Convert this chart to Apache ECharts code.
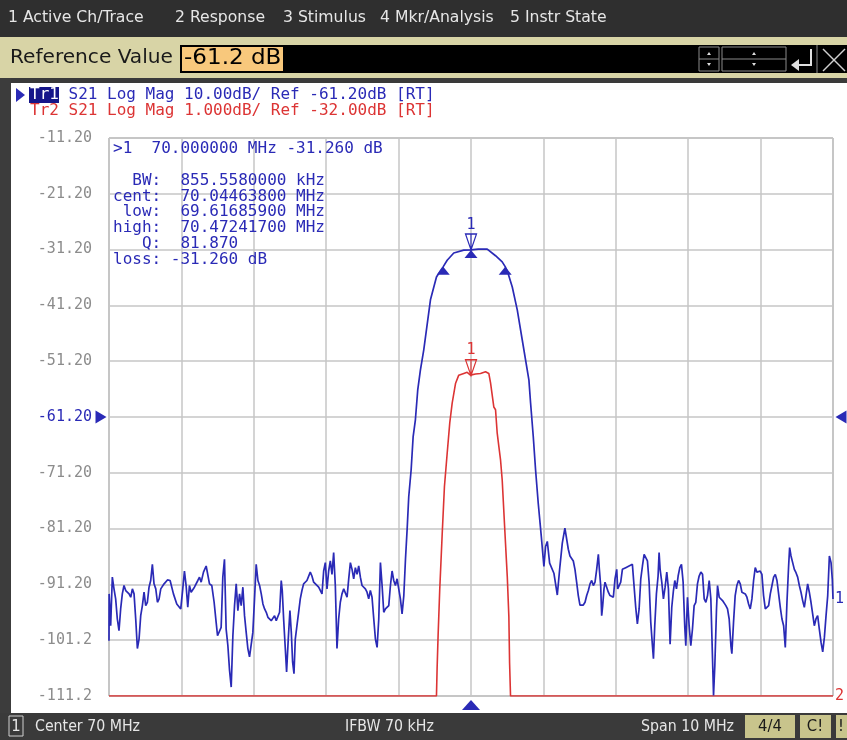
<!DOCTYPE html>
<html>
<head>
<meta charset="utf-8">
<title>S21 Log Mag</title>
<script src="https://cdn.jsdelivr.net/npm/echarts@6/dist/echarts.min.js"></script>
<style>
  html, body { margin: 0; padding: 0; background: #fff; }
  #chart { width: 847px; height: 740px; }
</style>
</head>
<body>
<div id="chart"></div>
<script>
// Tr1: S21 Log Mag, 10 dB/div (frequency in MHz, magnitude in dB)
const tr1Freq = [
  65.000, 65.002, 65.023, 65.046, 65.069, 65.092, 65.115, 65.138, 65.161, 65.184, 65.207, 65.231, 65.254, 65.277,
  65.300, 65.323, 65.346, 65.369, 65.392, 65.415, 65.438, 65.461, 65.484, 65.507, 65.530, 65.553, 65.576, 65.599,
  65.622, 65.646, 65.669, 65.692, 65.715, 65.761, 65.807, 65.844, 65.890, 65.936, 65.991, 66.019, 66.042, 66.065,
  66.088, 66.111, 66.134, 66.180, 66.227, 66.250, 66.273, 66.305, 66.342, 66.360, 66.388, 66.420, 66.452, 66.480,
  66.499, 66.526, 66.549, 66.572, 66.595, 66.618, 66.642, 66.665, 66.688, 66.711, 66.734, 66.757, 66.780, 66.803,
  66.826, 66.849, 66.872, 66.895, 66.918, 66.941, 66.964, 66.987, 67.010, 67.033, 67.057, 67.080, 67.103, 67.126,
  67.149, 67.172, 67.195, 67.218, 67.241, 67.264, 67.287, 67.310, 67.333, 67.356, 67.379, 67.393, 67.412, 67.435,
  67.453, 67.476, 67.499, 67.518, 67.536, 67.555, 67.573, 67.596, 67.619, 67.642, 67.665, 67.688, 67.711, 67.734,
  67.757, 67.780, 67.803, 67.827, 67.850, 67.896, 67.942, 67.965, 67.988, 68.011, 68.034, 68.057, 68.080, 68.103,
  68.126, 68.149, 68.172, 68.195, 68.218, 68.242, 68.265, 68.288, 68.311, 68.334, 68.357, 68.380, 68.403, 68.426,
  68.449, 68.472, 68.495, 68.518, 68.541, 68.564, 68.587, 68.610, 68.633, 68.657, 68.680, 68.703, 68.726, 68.749,
  68.772, 68.795, 68.818, 68.864, 68.887, 68.910, 68.933, 68.956, 68.979, 69.002, 69.025, 69.048, 69.072, 69.095,
  69.118, 69.140, 69.173, 69.201, 69.232, 69.264, 69.301, 69.347, 69.440, 69.523, 69.578, 69.617, 69.671, 69.762,
  69.900, 70.000, 70.100, 70.224, 70.242, 70.339, 70.431, 70.472, 70.501, 70.570, 70.639, 70.708, 70.800, 70.823,
  70.860, 70.892, 70.929, 70.971, 71.007, 71.030, 71.054, 71.086, 71.113, 71.145, 71.192, 71.228, 71.261, 71.297,
  71.344, 71.367, 71.390, 71.413, 71.436, 71.459, 71.482, 71.505, 71.528, 71.551, 71.575, 71.598, 71.621, 71.644,
  71.667, 71.690, 71.713, 71.736, 71.759, 71.773, 71.791, 71.805, 71.819, 71.837, 71.851, 71.874, 71.897, 71.920,
  71.943, 71.966, 71.989, 72.013, 72.026, 72.049, 72.068, 72.091, 72.137, 72.183, 72.229, 72.252, 72.275, 72.298,
  72.322, 72.345, 72.368, 72.391, 72.414, 72.437, 72.460, 72.483, 72.506, 72.520, 72.538, 72.561, 72.584, 72.598,
  72.612, 72.635, 72.658, 72.681, 72.704, 72.727, 72.750, 72.773, 72.796, 72.815, 72.838, 72.861, 72.884, 72.907,
  72.930, 72.953, 72.967, 72.990, 73.013, 73.036, 73.059, 73.082, 73.105, 73.128, 73.151, 73.175, 73.198, 73.221,
  73.244, 73.267, 73.290, 73.313, 73.336, 73.350, 73.368, 73.391, 73.405, 73.428, 73.451, 73.474, 73.497, 73.520,
  73.543, 73.566, 73.590, 73.603, 73.626, 73.649, 73.672, 73.696, 73.719, 73.742, 73.765, 73.788, 73.811, 73.834,
  73.857, 73.880, 73.903, 73.926, 73.949, 73.972, 73.995, 74.018, 74.041, 74.065, 74.088, 74.111, 74.134, 74.157,
  74.180, 74.203, 74.226, 74.249, 74.272, 74.295, 74.318, 74.341, 74.364, 74.387, 74.401, 74.420, 74.443, 74.466,
  74.489, 74.512, 74.535, 74.558, 74.581, 74.604, 74.627, 74.650, 74.673, 74.696, 74.719, 74.742, 74.765, 74.788,
  74.811, 74.835, 74.858, 74.881, 74.904, 74.927, 74.950, 74.973, 74.990, 75.000
];
const tr1Mag = [
  -101.3, -92.9, -98.6, -89.9, -92.0, -93.8, -97.4, -99.5, -95.6, -92.9, -91.4, -92.3, -92.0, -92.9,
  -93.5, -92.0, -92.9, -97.4, -102.7, -101.0, -96.8, -95.0, -92.6, -95.0, -94.4, -91.7, -90.5, -87.6,
  -91.1, -92.0, -94.4, -93.8, -92.0, -91.1, -90.4, -90.5, -92.9, -94.7, -95.6, -92.0, -88.8, -91.4,
  -95.3, -91.4, -92.6, -91.7, -90.5, -89.9, -90.8, -89.0, -87.9, -87.6, -91.1, -91.4, -94.4, -98.0,
  -100.4, -100.1, -98.9, -89.9, -86.7, -99.2, -102.2, -106.6, -109.6, -100.4, -95.0, -91.1, -95.9, -92.9,
  -95.0, -91.7, -96.8, -99.8, -102.7, -104.2, -103.9, -99.8, -93.8, -87.6, -90.5, -91.4, -92.9, -94.7,
  -95.6, -96.2, -97.1, -97.4, -97.7, -97.4, -96.8, -97.7, -98.0, -96.2, -90.5, -92.3, -97.4, -102.7,
  -106.9, -101.0, -95.9, -99.8, -105.1, -107.2, -101.0, -98.6, -96.2, -93.8, -92.3, -91.1, -90.8, -90.5,
  -90.2, -89.0, -89.7, -90.8, -91.1, -91.7, -92.9, -88.8, -87.3, -92.0, -88.8, -87.0, -89.4, -85.5,
  -91.4, -102.7, -97.4, -94.4, -92.9, -92.0, -92.3, -93.5, -90.2, -87.3, -88.5, -90.2, -88.2, -89.4,
  -87.9, -89.9, -91.4, -91.7, -92.0, -92.6, -93.8, -92.3, -93.5, -97.4, -101.0, -102.5, -97.4, -87.3,
  -91.4, -96.2, -95.6, -95.0, -91.4, -88.8, -90.5, -91.4, -90.2, -92.0, -93.8, -96.5, -93.2, -86.7,
  -81.3, -75.5, -70.7, -64.7, -61.7, -56.4, -52.8, -49.2, -40.2, -36.1, -35.0, -34.26, -33.1, -31.8,
  -31.3, -31.26, -31.1, -31.1, -31.3, -32.3, -33.4, -34.26, -35.0, -37.9, -42.0, -47.4, -54.6, -58.7,
  -64.7, -70.7, -76.7, -82.6, -88.0, -84.4, -83.5, -87.4, -87.7, -89.2, -93.1, -88.0, -83.8, -81.1,
  -84.9, -86.1, -86.4, -87.0, -88.5, -90.8, -93.2, -94.9, -94.9, -94.9, -94.4, -93.2, -92.3, -91.1,
  -90.5, -91.4, -90.8, -88.5, -85.8, -88.5, -91.4, -96.8, -95.0, -92.0, -90.8, -91.7, -92.6, -93.2,
  -93.2, -93.5, -90.2, -88.5, -92.0, -91.7, -90.8, -88.5, -88.2, -87.9, -87.6, -87.9, -95.3, -98.3,
  -95.6, -90.2, -87.9, -85.8, -86.1, -87.0, -90.8, -98.0, -102.2, -104.5, -98.6, -92.9, -89.7, -85.5,
  -88.5, -90.8, -93.8, -91.7, -89.0, -92.0, -101.9, -95.3, -92.3, -90.5, -92.0, -89.7, -88.2, -87.6,
  -90.8, -98.9, -102.2, -93.5, -98.6, -102.2, -99.2, -95.0, -94.4, -91.1, -89.7, -89.0, -89.4, -93.8,
  -94.4, -93.2, -90.5, -93.8, -104.5, -111.1, -105.7, -95.6, -91.4, -93.5, -93.8, -94.1, -94.4, -95.0,
  -95.6, -97.4, -102.2, -103.6, -98.0, -93.2, -91.4, -90.5, -91.1, -92.6, -92.3, -92.9, -93.5, -94.7,
  -95.6, -93.8, -90.5, -88.2, -89.0, -88.8, -88.8, -89.4, -93.2, -95.6, -95.9, -95.0, -92.9, -91.4,
  -89.9, -89.4, -90.5, -92.9, -95.3, -97.4, -98.6, -102.5, -94.4, -87.9, -84.6, -86.1, -87.3, -88.5,
  -89.1, -89.9, -91.4, -92.6, -94.1, -95.3, -93.2, -91.1, -92.6, -94.4, -96.5, -98.6, -97.4, -96.8,
  -99.2, -101.6, -103.3, -100.7, -96.8, -93.2, -86.1, -87.3, -90.2, -93.8
];

// Tr2: same S21, 1 dB/div (values below the display floor sit on -37 dB)
const tr2Freq = [
  65.000, 69.523, 69.532, 69.546, 69.568, 69.602, 69.633, 69.671, 69.707, 69.740, 69.786, 69.831, 69.900, 69.947,
  69.993, 70.062, 70.131, 70.201, 70.246, 70.270, 70.315, 70.339, 70.362, 70.385, 70.408, 70.431, 70.467, 70.501,
  70.523, 70.533, 70.546, 75.000
];
const tr2Mag = [
  -37.0, -37.0, -36.5, -35.9, -35.1, -34.1, -33.25, -32.65, -32.1, -31.75, -31.4, -31.25, -31.22, -31.2,
  -31.25, -31.23, -31.22, -31.19, -31.22, -31.39, -31.82, -31.87, -32.29, -32.53, -32.77, -33.13, -34.03, -34.86,
  -35.58, -36.41, -37.0, -37.0
];

// marker 1 and bandwidth search points
const marker1 = [70.0, -31.26];
const bwLow = [69.61686, -34.26];
const bwHigh = [70.47242, -34.26];

const yTickLabels = ['-111.2', '-101.2', '-91.20', '-81.20', '-71.20', '-61.20', '-51.20', '-41.20', '-31.20', '-21.20', '-11.20'];
const menuItems = ['1 Active Ch/Trace', '2 Response', '3 Stimulus', '4 Mkr/Analysis', '5 Instr State'];
const statusItems = ['Center 70 MHz', 'IFBW 70 kHz', 'Span 10 MHz'];
const markerLines = [
  '>1  70.000000 MHz -31.260 dB',
  '',
  '  BW:  855.5580000 kHz',
  'cent:  70.04463800 MHz',
  ' low:  69.61685900 MHz',
  'high:  70.47241700 MHz',
  '   Q:  81.870',
  'loss: -31.260 dB'
];

const BLUE = '#2a2ab6';
const RED = '#dc3434';
const GRID = '#c6c6c6';
const MONO = '"DejaVu Sans Mono", monospace';
const UI = '"Liberation Sans Narrow", "DejaVu Sans Condensed", sans-serif';
const CW = 9.63; // width of one mono char at 16px

const chart = echarts.init(document.getElementById('chart'));

// marker symbol: open triangle with a stem
const markerPath = 'path://M0,0 L12,0 L6,14 Z M6,0 L6,14';

function mkMarker(coord, color) {
  return {
    coord: coord,
    symbol: markerPath,
    symbolSize: [11, 16],
    symbolOffset: [0, '-50%'],
    itemStyle: { color: 'rgba(0,0,0,0)', borderColor: color, borderWidth: 1.3 },
    label: { show: true, position: 'top', distance: 1, formatter: '1', color: color, fontFamily: MONO, fontSize: 15 }
  };
}
function upTri(coord, size, offY) {
  return {
    coord: coord, symbol: 'triangle', symbolSize: size, symbolOffset: [0, offY],
    itemStyle: { color: BLUE }, label: { show: false }
  };
}
// UI text, stretched horizontally to the panel's wide lettering
function uiText(x, y, text, size, color, sx, align) {
  return {
    type: 'text', x: x, y: y, scaleX: sx,
    style: { text: text, fill: color, font: size + 'px ' + UI, align: align || 'left', verticalAlign: 'middle' }
  };
}

const gfx = [];
// menu bar
gfx.push({ type: 'rect', shape: { x: 0, y: 0, width: 847, height: 37 }, style: { fill: '#2f2f2f' } });
const menuX = [8, 175, 283, 380, 510];
menuItems.forEach((t, i) => gfx.push(uiText(menuX[i], 18, t, 15, '#e6e6e6', 1.16)));
// reference value row
gfx.push({ type: 'rect', shape: { x: 0, y: 37, width: 847, height: 41 }, style: { fill: '#d8d4a6' } });
gfx.push(uiText(10, 58, 'Reference Value', 20, '#1a1a1a', 1.12));
gfx.push({ type: 'rect', shape: { x: 180, y: 45, width: 667, height: 28 }, style: { fill: '#000' } });
gfx.push({ type: 'rect', shape: { x: 182, y: 47, width: 101, height: 24 }, style: { fill: '#f8c87c' } });
gfx.push(uiText(184, 59, '-61.2 dB', 21, '#000', 1.22));
// spinners, enter, cancel
[[699, 20], [722, 64]].forEach(b => {
  gfx.push({ type: 'rect', shape: { x: b[0], y: 47, width: b[1], height: 24 }, style: { fill: 'none', stroke: '#8a8a8a', lineWidth: 1 } });
  gfx.push({ type: 'line', shape: { x1: b[0], y1: 59, x2: b[0] + b[1], y2: 59 }, style: { stroke: '#8a8a8a', lineWidth: 1 } });
  const cx = b[0] + b[1] / 2;
  gfx.push({ type: 'polygon', shape: { points: [[cx - 2, 55], [cx + 2, 55], [cx, 52]] }, style: { fill: '#ddd' } });
  gfx.push({ type: 'polygon', shape: { points: [[cx - 2, 63], [cx + 2, 63], [cx, 66]] }, style: { fill: '#ddd' } });
});
gfx.push({ type: 'polyline', shape: { points: [[811, 49], [811, 65], [795, 65]] }, style: { stroke: '#e0e0e0', lineWidth: 2, fill: 'none' } });
gfx.push({ type: 'polygon', shape: { points: [[791, 65], [799, 59], [799, 71]] }, style: { fill: '#e0e0e0' } });
gfx.push({ type: 'line', shape: { x1: 817, y1: 45, x2: 817, y2: 73 }, style: { stroke: '#8a8a8a', lineWidth: 1 } });
gfx.push({ type: 'line', shape: { x1: 823, y1: 49, x2: 845, y2: 71 }, style: { stroke: '#d0d0d0', lineWidth: 1.5 } });
gfx.push({ type: 'line', shape: { x1: 845, y1: 49, x2: 823, y2: 71 }, style: { stroke: '#d0d0d0', lineWidth: 1.5 } });
// frame
gfx.push({ type: 'rect', shape: { x: 0, y: 78, width: 847, height: 5 }, style: { fill: '#3a3a3a' } });
gfx.push({ type: 'rect', shape: { x: 0, y: 78, width: 11, height: 636 }, style: { fill: '#3c3c3c' } });
// trace header
gfx.push({ type: 'polygon', shape: { points: [[16, 88], [25, 95], [16, 102]] }, style: { fill: BLUE } });
gfx.push({ type: 'rect', shape: { x: 29, y: 87, width: 30, height: 16 }, style: { fill: '#16168a' } });
gfx.push({ type: 'text', x: 30, y: 95, style: { text: 'Tr1', fill: '#fff', font: '16px ' + MONO, verticalAlign: 'middle' } });
gfx.push({ type: 'text', x: 30 + 3 * CW, y: 95, style: { text: ' S21 Log Mag 10.00dB/ Ref -61.20dB [RT]', fill: BLUE, font: '16px ' + MONO, verticalAlign: 'middle' } });
gfx.push({ type: 'text', x: 30, y: 111, style: { text: 'Tr2 S21 Log Mag 1.000dB/ Ref -32.00dB [RT]', fill: RED, font: '16px ' + MONO, verticalAlign: 'middle' } });
// marker readout
markerLines.forEach((t, i) => {
  gfx.push({ type: 'text', x: 113, y: 149 + i * 15.8, z: 10, style: { text: t, fill: BLUE, font: '16px ' + MONO, verticalAlign: 'middle' } });
});
// status bar
gfx.push({ type: 'rect', shape: { x: 0, y: 713, width: 847, height: 27 }, style: { fill: '#3a3a3a' } });
gfx.push({ type: 'rect', shape: { x: 9, y: 716, width: 14, height: 20 }, style: { fill: 'none', stroke: '#cfcfcf', lineWidth: 1 } });
gfx.push(uiText(16, 727, '1', 15, '#e6e6e6', 1.1, 'center'));
const statusX = [35, 345, 641];
statusItems.forEach((t, i) => gfx.push(uiText(statusX[i], 727, t, 15, '#e6e6e6', 1.05)));
gfx.push({ type: 'rect', shape: { x: 745, y: 715, width: 50, height: 23 }, style: { fill: '#c8c48c' } });
gfx.push(uiText(770, 727, '4/4', 15, '#1a1a1a', 1.1, 'center'));
gfx.push({ type: 'rect', shape: { x: 800, y: 715, width: 31, height: 23 }, style: { fill: '#c8c48c' } });
gfx.push(uiText(815, 727, 'C!', 15, '#1a1a1a', 1.1, 'center'));
gfx.push({ type: 'rect', shape: { x: 836, y: 715, width: 11, height: 23 }, style: { fill: '#c8c48c' } });
gfx.push(uiText(841, 727, '!', 15, '#1a1a1a', 1.1, 'center'));

const option = {
  animation: false,
  backgroundColor: '#ffffff',
  grid: {
    left: 109, right: 14, top: 138, bottom: 44,
    show: true, borderColor: '#8c8c8c', borderWidth: 1, backgroundColor: '#fff'
  },
  xAxis: {
    type: 'value', min: 65, max: 75, interval: 1,
    axisLabel: { show: false }, axisTick: { show: false }, axisLine: { show: false },
    splitLine: { lineStyle: { color: GRID, width: 1.5 } }
  },
  yAxis: [
    {
      type: 'value', min: -111.2, max: -11.2, interval: 10,
      axisTick: { show: false }, axisLine: { show: false },
      splitLine: { lineStyle: { color: GRID, width: 1.5 } },
      axisLabel: {
        margin: 17, fontFamily: MONO, fontSize: 15, color: '#8c8c8c',
        formatter: function (v) {
          const s = yTickLabels.find(l => Math.abs(parseFloat(l) - v) < 0.01) || '';
          return s === '-61.20' ? '{ref|' + s + '}' : s;
        },
        rich: { ref: { color: BLUE, fontFamily: MONO, fontSize: 15 } }
      }
    },
    { type: 'value', min: -37, max: -27, show: false }
  ],
  series: [
    {
      name: 'Tr2', type: 'line', yAxisIndex: 1, z: 3,
      data: tr2Freq.map((f, i) => [f, tr2Mag[i]]),
      showSymbol: false, symbol: 'none',
      lineStyle: { color: RED, width: 1.6 }, itemStyle: { color: RED },
      endLabel: { show: true, formatter: '2', color: RED, fontFamily: MONO, fontSize: 15, distance: 2 },
      markPoint: { data: [mkMarker(marker1, RED)] }
    },
    {
      name: 'Tr1', type: 'line', z: 4,
      data: tr1Freq.map((f, i) => [f, tr1Mag[i]]),
      showSymbol: false, symbol: 'none',
      lineStyle: { color: BLUE, width: 1.7 }, itemStyle: { color: BLUE },
      endLabel: { show: true, formatter: '1', color: BLUE, fontFamily: MONO, fontSize: 15, distance: 2 },
      markPoint: {
        data: [
          mkMarker(marker1, BLUE),
          upTri(marker1, [13, 8], '50%'),
          upTri(bwLow, [13, 8], '50%'),
          upTri(bwHigh, [13, 8], '50%'),
          upTri([marker1[0], -111.2], [18, 10], 9),
          { coord: [65, -61.2], symbol: 'triangle', symbolRotate: -90, symbolSize: [13, 11], symbolOffset: [-8, 0], itemStyle: { color: BLUE }, label: { show: false } },
          { coord: [75, -61.2], symbol: 'triangle', symbolRotate: 90, symbolSize: [13, 11], symbolOffset: [8, 0], itemStyle: { color: BLUE }, label: { show: false } }
        ]
      }
    }
  ],
  graphic: { elements: gfx }
};
chart.setOption(option);
</script>
</body>
</html>
